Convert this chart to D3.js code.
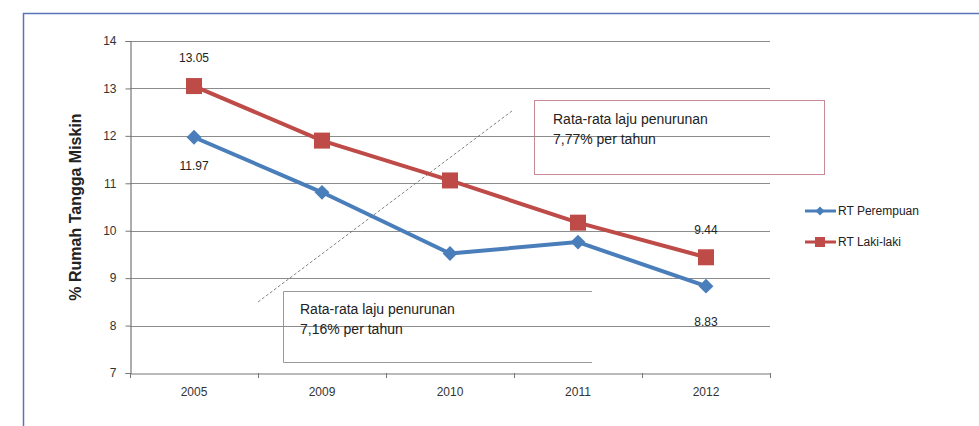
<!DOCTYPE html>
<html><head><meta charset="utf-8">
<script src="https://cdn.jsdelivr.net/npm/d3@7"></script>
<style>body{margin:0;background:#fff}svg{display:block;font-family:"Liberation Sans",Arial,sans-serif}</style>
</head><body>
<svg id="c" width="979" height="426"></svg>
<script>
const years = ["2005","2009","2010","2011","2012"];
const perempuan = [11.97, 10.81, 9.52, 9.76, 8.83];
const lakilaki = [13.05, 11.90, 11.06, 10.17, 9.44];
const yTicks = [7,8,9,10,11,12,13,14];
const seriesNames = ["RT Perempuan","RT Laki-laki"];
const labelsPerempuan = [["2005","11.97"],["2012","8.83"]];
const labelsLaki = [["2005","13.05"],["2012","9.44"]];

const svg = d3.select("#c");
const L=130,R=770,T=41,B=373;
const x = d3.scaleBand().domain(years).range([L,R]);
const y = d3.scaleLinear().domain([7,14]).range([B,T]);
const cx = d => x(d)+x.bandwidth()/2;

// outer border
svg.append("path").attr("d","M23.5,426 V13.5 H979").attr("fill","none").attr("stroke","#5b73b8").attr("stroke-width",1.5);

// annotation boxes
svg.append("rect").attr("x",534.5).attr("y",100.5).attr("width",290).attr("height",74)
  .attr("fill","#fff").attr("stroke","#c98a96").attr("stroke-width",1);
svg.append("path").attr("d","M592,291.5 H283.5 V362.5 H592").attr("fill","none").attr("stroke","#999").attr("stroke-width",1);

// gridlines
svg.append("g").selectAll("line").data(yTicks.filter(t=>t>7)).join("line")
  .attr("x1",L).attr("x2",R).attr("y1",d=>Math.round(y(d))+0.5).attr("y2",d=>Math.round(y(d))+0.5)
  .attr("stroke","#8c8c8c").attr("stroke-width",1.2);

// axes
const ya = svg.append("g").attr("transform",`translate(${L+0.5},0)`)
  .call(d3.axisLeft(y).tickValues(yTicks).tickSize(5).tickPadding(9).tickFormat(d3.format("d")));
const xa = svg.append("g").attr("transform",`translate(0,${B+0.5})`)
  .call(d3.axisBottom(x).tickSize(0).tickPadding(14));
[ya,xa].forEach(g=>{g.select(".domain").attr("stroke","#777").attr("stroke-width",1.2);
  g.selectAll("text").attr("font-size",12).attr("fill","#333").attr("font-family","Liberation Sans, Arial");});
ya.selectAll(".tick line").attr("stroke","#777");
// x boundary ticks
const bounds = years.map(d=>x(d)).concat([R]);
svg.append("g").selectAll("line").data(bounds).join("line")
  .attr("x1",d=>d+0.5).attr("x2",d=>d+0.5).attr("y1",B).attr("y2",B+5).attr("stroke","#777");

// dashed line
svg.append("line").attr("x1",258).attr("y1",302).attr("x2",512).attr("y2",111)
  .attr("stroke","#666").attr("stroke-width",0.8).attr("stroke-dasharray","3,2");

// annotation text
function ann(x0,y0,lines){
  const t=svg.append("text").attr("x",x0).attr("y",y0).attr("font-size",14).attr("fill","#222");
  lines.forEach((s,i)=>t.append("tspan").attr("x",x0).attr("dy",i?20:0).text(s));
}
ann(553,124,["Rata-rata laju penurunan","7,77% per tahun"]);
ann(300,314,["Rata-rata laju penurunan","7,16% per tahun"]);

const line = d3.line().x((d,i)=>cx(years[i])).y(d=>y(d));
const blue="#4a7ebb", red="#be4b48";
svg.append("path").datum(perempuan).attr("d",line).attr("fill","none").attr("stroke",blue).attr("stroke-width",4).attr("stroke-linejoin","round");
svg.append("path").datum(lakilaki).attr("d",line).attr("fill","none").attr("stroke",red).attr("stroke-width",4).attr("stroke-linejoin","round");
svg.append("g").selectAll("path").data(perempuan).join("path")
  .attr("d",d3.symbol(d3.symbolSquare,110))
  .attr("transform",(d,i)=>`translate(${cx(years[i])},${y(d)}) rotate(45)`).attr("fill",blue);
svg.append("g").selectAll("rect").data(lakilaki).join("rect")
  .attr("x",(d,i)=>cx(years[i])-8).attr("y",d=>y(d)-8).attr("width",16).attr("height",16).attr("fill",red);

// data labels
const lab=(arr,vals,dy)=>svg.append("g").selectAll("text").data(arr).join("text")
  .attr("x",d=>cx(d[0])).attr("y",(d,i)=>y(vals[years.indexOf(d[0])])+dy[i])
  .attr("text-anchor","middle").attr("font-size",12).attr("fill","#222").text(d=>d[1]);
lab(labelsLaki,lakilaki,[-24,-23]);
lab(labelsPerempuan,perempuan,[33,40]);

// y title
svg.append("text").attr("transform","translate(81,207) rotate(-90)").attr("text-anchor","middle")
  .attr("font-size",16).attr("font-weight","bold").attr("fill","#222").text("% Rumah Tangga Miskin");

// legend
const lg=svg.append("g");
[[blue,"d"],[red,"s"]].forEach((c,i)=>{
  const yy=211+i*31;
  lg.append("line").attr("x1",805).attr("x2",836).attr("y1",yy).attr("y2",yy).attr("stroke",c[0]).attr("stroke-width",3);
  if(c[1]==="d") lg.append("path").attr("d",d3.symbol(d3.symbolSquare,40)).attr("transform",`translate(820,${yy}) rotate(45)`).attr("fill",c[0]);
  else lg.append("rect").attr("x",815).attr("y",yy-5).attr("width",10).attr("height",10).attr("fill",c[0]);
  lg.append("text").attr("x",838).attr("y",yy+4).attr("font-size",12).attr("fill","#222").text(seriesNames[i]);
});
</script>
</body></html>
